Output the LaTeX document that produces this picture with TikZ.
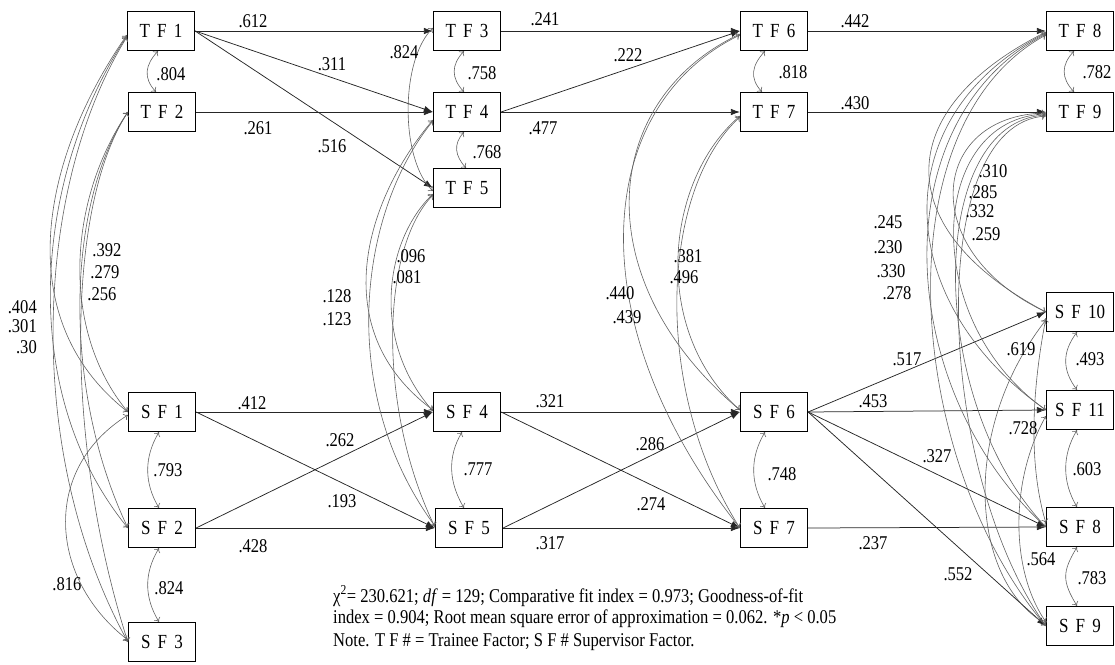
\documentclass[tikz,border=0pt]{standalone}
\usepackage{fontspec}
\setmainfont{Liberation Serif}[FakeStretch=0.85]
\newfontfamily\boxfont{Liberation Serif}[FakeStretch=0.85, WordSpace=1.7]
\usetikzlibrary{arrows.meta,calc}
\begin{document}
\begin{tikzpicture}[x=1pt,y=-1pt,
  box/.style={draw, line width=1.2pt, minimum width=67pt, minimum height=39pt, inner sep=0pt, font=\boxfont\fontsize{20}{22}\selectfont},
  pth/.style={line width=0.75pt, draw=black!85, -{Latex[length=9pt,width=6.5pt]}},
  corr/.style={line width=0.6pt, draw=black!62, {To[length=4pt,width=7pt]}-{To[length=4pt,width=7pt]}},
  lab/.style={font=\fontsize{19.5}{21}\selectfont, inner sep=0pt},
  note/.style={font=\fontsize{19.5}{21}\selectfont, inner sep=0pt, anchor=west}]
\useasboundingbox (0,0) rectangle (1115,664);
% nodes
\node[box] (TF1) at (161,31) {T F 1};
\node[box] (TF2) at (162,112) {T F 2};
\node[box] (TF3) at (467,31) {T F 3};
\node[box] (TF4) at (467,112) {T F 4};
\node[box] (TF5) at (467,188) {T F 5};
\node[box] (TF6) at (774,31) {T F 6};
\node[box] (TF7) at (774,112) {T F 7};
\node[box] (TF8) at (1080,31) {T F 8};
\node[box] (TF9) at (1080,112) {T F 9};
\node[box] (SF10) at (1080,312) {S F 10};
\node[box] (SF11) at (1080,410) {S F 11};
\node[box] (SF8) at (1080,527) {S F 8};
\node[box] (SF9) at (1080,626) {S F 9};
\node[box] (SF1) at (162,412) {S F 1};
\node[box] (SF2) at (162,528) {S F 2};
\node[box] (SF3) at (162,642) {S F 3};
\node[box] (SF4) at (467,412) {S F 4};
\node[box] (SF5) at (469,528) {S F 5};
\node[box] (SF6) at (774,412) {S F 6};
\node[box] (SF7) at (774,528) {S F 7};
% straight paths
\draw[pth] (TF1.east) -- (TF3.west);
\draw[pth] (TF1.east) -- (TF4.west);
\draw[pth] (TF1.east) -- (TF5.west);
\draw[pth] (TF2.east) -- (TF4.west);
\draw[pth] (TF3.east) -- (TF6.west);
\draw[pth] (TF4.east) -- (TF6.west);
\draw[pth] (TF4.east) -- (TF7.west);
\draw[pth] (TF6.east) -- (TF8.west);
\draw[pth] (TF7.east) -- (TF9.west);
\draw[pth] (SF1.east) -- (SF4.west);
\draw[pth] (SF1.east) -- (SF5.west);
\draw[pth] (SF2.east) -- (SF4.west);
\draw[pth] (SF2.east) -- (SF5.west);
\draw[pth] (SF4.east) -- (SF6.west);
\draw[pth] (SF4.east) -- (SF7.west);
\draw[pth] (SF5.east) -- (SF6.west);
\draw[pth] (SF5.east) -- (SF7.west);
\draw[pth] (SF6.east) -- (SF10.west);
\draw[pth] (SF6.east) -- (SF11.west);
\draw[pth] (SF6.east) -- (SF8.west);
\draw[pth] (SF6.east) -- (SF9.west);
\draw[pth] (SF7.east) -- (SF8.west);
% adjacent correlations
\draw[corr] ($(TF1.south)+(-3,0)$) .. controls +(-13,14) and +(-13,-14) .. ($(TF2.north)+(-6,0)$);
\draw[corr] ($(TF3.south)+(-3,0)$) .. controls +(-13,14) and +(-13,-14) .. ($(TF4.north)+(-3,0)$);
\draw[corr] ($(TF4.south)+(-3,0)$) .. controls +(-11,12) and +(-11,-12) .. ($(TF5.north)+(-1,0)$);
\draw[corr] ($(TF6.south)+(-9,0)$) .. controls +(-13,14) and +(-13,-14) .. ($(TF7.north)+(-12,0)$);
\draw[corr] ($(TF8.south)+(-6,0)$) .. controls +(-13,14) and +(-13,-14) .. ($(TF9.north)+(-6,0)$);
\draw[corr] ($(SF1.south)+(-3,0)$) .. controls +(-15,25) and +(-15,-25) .. ($(SF2.north)+(-3,0)$);
\draw[corr] ($(SF2.south)+(-3,0)$) .. controls +(-15,25) and +(-15,-25) .. ($(SF3.north)+(-3,0)$);
\draw[corr] ($(SF4.south)+(-5,0)$) .. controls +(-15,25) and +(-15,-25) .. ($(SF5.north)+(-5,0)$);
\draw[corr] ($(SF6.south)+(-9,0)$) .. controls +(-15,25) and +(-15,-25) .. ($(SF7.north)+(-9,0)$);
\draw[corr] ($(SF10.south)+(-3,0)$) .. controls +(-15,20) and +(-15,-20) .. ($(SF11.north)+(-3,0)$);
\draw[corr] ($(SF11.south)+(-3,0)$) .. controls +(-15,25) and +(-15,-25) .. ($(SF8.north)+(-3,0)$);
\draw[corr] ($(SF8.south)+(-3,0)$) .. controls +(-15,25) and +(-15,-25) .. ($(SF9.north)+(-3,0)$);
% left group
\draw[corr] ($(TF1.west)+(0,4)$) .. controls (40,160) and (10,320) .. (SF1.west);
\draw[corr] ($(TF1.west)+(0,5)$) .. controls (35,175) and (15,390) .. (SF2.west);
\draw[corr] ($(TF1.west)+(0,6)$) .. controls (35,185) and (22,450) .. (SF3.west);
\draw[corr] (TF2.west) .. controls (68,200) and (60,330) .. (SF1.west);
\draw[corr] (TF2.west) .. controls (66,205) and (62,390) .. (SF2.west);
\draw[corr] (TF2.west) .. controls (64,210) and (66,450) .. (SF3.west);
\draw[corr] ($(SF1.west)+(0,3)$) .. controls (40,470) and (50,580) .. ($(SF3.west)+(0,-2)$);
% TF3-TF5
\draw[corr] ($(TF3.west)+(0,-3)$) .. controls (400,60) and (400,160) .. ($(TF5.west)+(0,3)$);
% TF4/TF5 with SF4/SF5
\draw[corr] ($(TF4.west)+(0,8)$) .. controls (365,200) and (325,330) .. ($(SF4.west)+(0,-2)$);
\draw[corr] ($(TF4.west)+(0,9)$) .. controls (360,210) and (335,390) .. ($(SF5.west)+(0,-2)$);
\draw[corr] ($(TF5.west)+(0,6)$) .. controls (385,240) and (370,340) .. ($(SF4.west)+(0,-1)$);
\draw[corr] ($(TF5.west)+(0,7)$) .. controls (380,250) and (378,410) .. ($(SF5.west)+(0,-1)$);
% TF6/TF7 with SF6/SF7
\draw[corr] ($(TF6.west)+(0,3)$) .. controls (600,100) and (585,280) .. ($(SF6.west)+(0,-2)$);
\draw[corr] ($(TF6.west)+(0,4)$) .. controls (595,105) and (575,320) .. (SF7.west);
\draw[corr] ($(TF7.west)+(0,4)$) .. controls (665,180) and (650,330) .. ($(SF6.west)+(0,-2)$);
\draw[corr] ($(TF7.west)+(0,5)$) .. controls (660,190) and (652,390) .. (SF7.west);
% TF8/TF9 with SF10/SF11/SF8/SF9
\draw[corr] ($(TF8.west)+(0,1)$) .. controls (890,110) and (890,230) .. (SF10.west);
\draw[corr] ($(TF8.west)+(0,2)$) .. controls (885,115) and (890,300) .. (SF11.west);
\draw[corr] ($(TF8.west)+(0,3)$) .. controls (880,120) and (895,390) .. (SF8.west);
\draw[corr] ($(TF8.west)+(0,4)$) .. controls (880,125) and (905,460) .. (SF9.west);
\draw[corr] ($(TF9.west)+(0,1)$) .. controls (930,115) and (915,250) .. (SF10.west);
\draw[corr] ($(TF9.west)+(0,2)$) .. controls (928,118) and (918,320) .. (SF11.west);
\draw[corr] ($(TF9.west)+(0,3)$) .. controls (926,121) and (925,400) .. (SF8.west);
\draw[corr] ($(TF9.west)+(0,4)$) .. controls (924,124) and (935,470) .. (SF9.west);
% among SF10/SF11/SF8/SF9
\draw[corr] ($(SF10.west)+(0,6)$) .. controls (1030,400) and (1030,470) .. ($(SF8.west)+(0,-4)$);
\draw[corr] ($(SF11.west)+(0,6)$) .. controls (1010,480) and (1010,570) .. ($(SF9.west)+(0,-4)$);
\draw[corr] ($(SF10.west)+(0,8)$) .. controls (960,430) and (970,580) .. ($(SF9.west)+(0,-2)$);
% labels
\foreach \t/\x/\y [count=\i] in {
 .612/253/21, .311/332/64, .516/332/146, .261/258/128, .804/171/74,
 .824/404/52, .758/482/73, .768/487/152, .241/545/19, .222/628/55,
 .477/543/128, .442/855/21, .818/793/72, .430/855/103, .782/1097/72,
 .310/993/171, .285/983/192, .332/980/211, .259/986/234,
 .245/888/222, .230/888/247, .330/891/271, .278/897/293,
 .619/1021/349, .517/907/359, .453/873/401, .493/1090/359, .728/1023/428,
 .327/937/456, .748/782/474, .603/1087/469, .237/873/543, .552/958/574,
 .564/1041/559, .783/1092/578,
 .392/107/250, .279/105/272, .256/102/294,
 .128/337/296, .123/337/319, .412/252/403,
 .096/411/256, .081/407/277, .381/688/256, .496/684/277,
 .440/620/293, .439/627/317, .321/550/401,
 .262/340/440, .793/168/470, .193/342/501, .428/253/546,
 .816/67/584, .824/169/588, .286/650/444, .777/478/469, .274/651/504, .317/550/543}
 \node[lab] (lab\i) at (\x,\y) {\t};
\node[lab, anchor=east] (lA) at (37,307) {.404};
\node[lab, anchor=east] (lB) at (37,326) {.301};
\node[lab, anchor=east] (lC) at (37,347) {.30};
% note
\node[note] (n1) at (333,596) {χ\textsuperscript{2}= 230.621; \textit{df} = 129; Comparative fit index = 0.973; Goodness-of-fit};
\node[note] (n2) at (333,619) {index = 0.904; Root mean square error of approximation = 0.062. *\textit{p} < 0.05};
\node[note] (n3) at (333,642) {Note. T F \# = Trainee Factor; S F \# Supervisor Factor.};
\end{tikzpicture}
\end{document}
